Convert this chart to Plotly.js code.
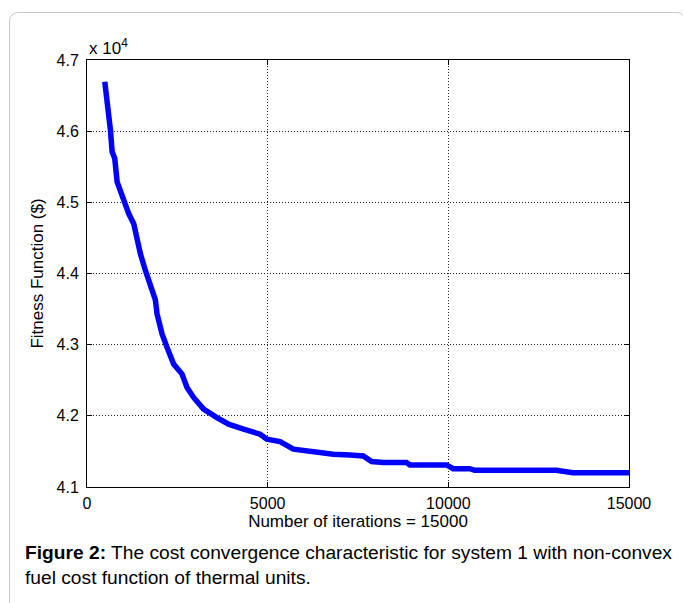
<!DOCTYPE html>
<html>
<head>
<meta charset="utf-8">
<script src="https://cdn.plot.ly/plotly-3.0.1.min.js"></script>
<style>
html, body { margin:0; padding:0; background:#fff; width:683px; height:603px; overflow:hidden; }
#frame { position:absolute; left:9px; top:12px; width:677px; height:620px; border:1px solid #c8c8c8; border-radius:9px; box-sizing:border-box; }
#chart { position:absolute; left:0; top:0; width:683px; height:603px; }
</style>
</head>
<body>
<div id="frame"></div>
<div id="chart"></div>
<script>
const iterations = [492, 558, 621, 649, 696, 768, 834, 925, 1016, 1155, 1293, 1386, 1478, 1616, 1707, 1845, 1892, 1939, 2077, 2215, 2397, 2630, 2768, 2950, 3226, 3596, 3917, 4331, 4792, 4976, 5344, 5712, 6358, 6817, 7278, 7645, 7877, 8198, 8843, 8935, 9949, 10133, 10593, 10731, 12987, 13169, 13446, 15000];
const fitness = [46694, 46413, 46226, 46014, 45709, 45616, 45286, 45146, 45029, 44841, 44700, 44465, 44277, 44042, 43901, 43714, 43631, 43432, 43150, 42962, 42728, 42587, 42399, 42258, 42094, 41976, 41883, 41813, 41742, 41672, 41638, 41531, 41483, 41460, 41451, 41437, 41357, 41343, 41343, 41310, 41310, 41258, 41258, 41235, 41235, 41215, 41201, 41201];
const xTicks = [0, 5000, 10000, 15000];
const xTickLabels = ['0', '5000', '10000', '15000'];
const yTicks = [41000, 42000, 43000, 44000, 45000, 46000, 47000];
const yTickLabels = ['4.1', '4.2', '4.3', '4.4', '4.5', '4.6', '4.7'];

const font = 'Liberation Sans, Arial, sans-serif';
const axisCommon = {
  showline: true, linecolor: '#000', linewidth: 1, mirror: 'ticks',
  ticks: 'inside', ticklen: 5, tickcolor: '#000', tickwidth: 1,
  showgrid: true, gridcolor: '#222', griddash: '1px,2px', gridwidth: 1,
  zeroline: false, tickfont: { family: font, size: 16, color: '#000' }
};

Plotly.newPlot('chart', [{
  x: iterations, y: fitness, type: 'scatter', mode: 'lines',
  line: { color: '#0000ff', width: 5.5 }
}], {
  width: 683, height: 603,
  margin: { l: 86.5, r: 54.3, t: 60, b: 116 },
  paper_bgcolor: 'rgba(0,0,0,0)', plot_bgcolor: '#fff',
  showlegend: false,
  xaxis: Object.assign({}, axisCommon, {
    range: [0, 15000], tickvals: xTicks, ticktext: xTickLabels, ticklabelstandoff: 2,
    title: { text: 'Number of iterations = 15000', font: { family: font, size: 17, color: '#000' }, standoff: 3 }
  }),
  yaxis: Object.assign({}, axisCommon, {
    range: [41000, 47000], tickvals: yTicks, ticktext: yTickLabels, ticklabelstandoff: 4,
    title: { text: 'Fitness Function ($)', font: { family: font, size: 17, color: '#000' }, standoff: 8 }
  }),
  annotations: [
    { text: 'x 10<sup>4</sup>', xref: 'paper', yref: 'paper', x: 0, y: 1, xanchor: 'left', yanchor: 'bottom', yshift: 0, showarrow: false, font: { family: font, size: 17, color: '#000' } },
    { text: '<b>Figure 2:</b> The cost convergence characteristic for system 1 with non-convex<br>fuel cost function of thermal units.', xref: 'paper', yref: 'paper', x: -0.119, y: -0.125, xanchor: 'left', yanchor: 'top', align: 'left', showarrow: false, font: { family: font, size: 19.2, color: '#000' } }
  ]
}, { displayModeBar: false, staticPlot: true });
</script>
</body>
</html>
